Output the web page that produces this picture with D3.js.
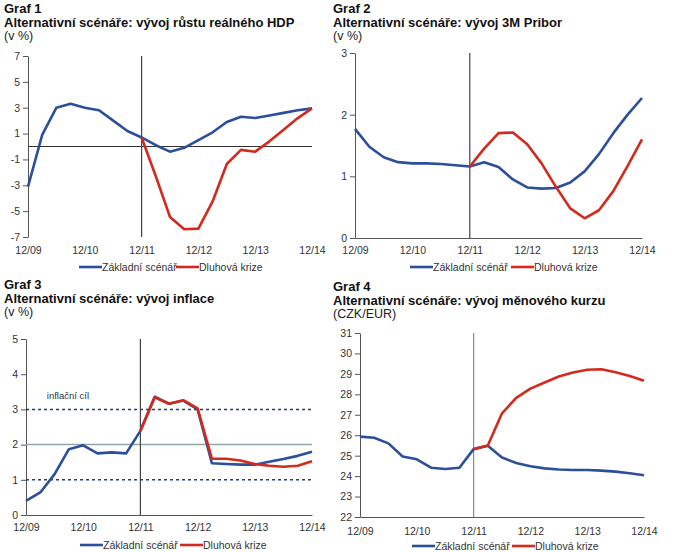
<!DOCTYPE html>
<html><head><meta charset="utf-8">
<script src="https://cdn.jsdelivr.net/npm/d3@7"></script>
<style>
body{margin:0;background:#fff;}
svg{display:block;font-family:"Liberation Sans",Arial,sans-serif;}
</style></head>
<body>
<svg id="c" width="688" height="552"></svg>
<script>
const quarters = d3.range(21);
const yearLabels = ["12/09","12/10","12/11","12/12","12/13","12/14"];
const seriesNames = ["Základní scénář","Dluhová krize"];

const gdpBase = [-3.1,0.9,3.0,3.3,3.0,2.8,2.0,1.2,0.7,0.1,-0.4,-0.1,0.5,1.1,1.9,2.3,2.2,2.4,2.6,2.8,2.95];
const gdpCrisis = [null,null,null,null,null,null,null,null,0.7,-2.3,-5.45,-6.4,-6.35,-4.25,-1.35,-0.26,-0.4,0.4,1.3,2.2,2.95];

const priborBase = [1.77,1.48,1.31,1.23,1.21,1.21,1.2,1.18,1.16,1.23,1.15,0.95,0.82,0.8,0.81,0.9,1.08,1.36,1.7,2.0,2.27];
const priborCrisis = [null,null,null,null,null,null,null,null,1.16,1.45,1.7,1.71,1.52,1.21,0.83,0.48,0.32,0.45,0.76,1.17,1.6];

const inflBase = [0.4,0.64,1.16,1.87,1.98,1.75,1.78,1.75,2.39,3.36,3.16,3.25,3.0,1.47,1.45,1.43,1.43,1.51,1.59,1.68,1.8];
const inflCrisis = [null,null,null,null,null,null,null,null,2.39,3.34,3.16,3.26,3.03,1.6,1.6,1.55,1.45,1.4,1.37,1.4,1.53];

const fxBase = [25.93,25.88,25.6,24.96,24.82,24.41,24.35,24.41,25.32,25.49,24.91,24.64,24.48,24.38,24.32,24.3,24.3,24.27,24.22,24.14,24.04];
const fxCrisis = [null,null,null,null,null,null,null,null,25.32,25.5,27.07,27.83,28.28,28.58,28.87,29.07,29.2,29.23,29.08,28.9,28.66];

const ticks1 = [-7,-5,-3,-1,1,3,5,7];
const ticks2 = [0,1,2,3];
const ticks3 = [0,1,2,3,4,5];
const ticks4 = [22,23,24,25,26,27,28,29,30,31];

const BLUE = "#2c4f9c", RED = "#d42a1e";
const svg = d3.select("#c");

const panels = [
  {num:"Graf 1", title:"Alternativní scénáře: vývoj růstu reálného HDP", unit:"(v %)",
   tx:4, ty:13, x:[28,312], y:[237,56], dom:[-7,7], ticks:ticks1, base:gdpBase, crisis:gdpCrisis,
   labY:255, legY:267, leg:[79,176], zero:0, vcol:"#444", bottomLine:false},
  {num:"Graf 2", title:"Alternativní scénáře: vývoj 3M Pribor", unit:"(v %)",
   tx:333, ty:13, x:[355,642], y:[238,53], dom:[0,3], ticks:ticks2, base:priborBase, crisis:priborCrisis,
   labY:255, legY:267, leg:[410,511], vcol:"#444", bottomLine:true},
  {num:"Graf 3", title:"Alternativní scénáře: vývoj inflace", unit:"(v %)",
   tx:4, ty:289, x:[26,312], y:[515,339], dom:[0,5], ticks:ticks3, base:inflBase, crisis:inflCrisis,
   labY:532, legY:545, leg:[80,180], vcol:"#444", bottomLine:true, target:true},
  {num:"Graf 4", title:"Alternativní scénáře: vývoj měnového kurzu", unit:"(CZK/EUR)",
   tx:333, ty:291, x:[360,644], y:[517,333], dom:[22,31], ticks:ticks4, base:fxBase, crisis:fxCrisis,
   labY:536, legY:546, leg:[412,512], vcol:"#888", bottomLine:true}
];

const fmt = d => (d < 0 ? "-" : "") + Math.abs(d);

panels.forEach(p => {
  const g = svg.append("g");
  g.append("text").attr("x",p.tx).attr("y",p.ty).attr("font-size",13).attr("font-weight","bold").attr("fill","#111").text(p.num);
  g.append("text").attr("x",p.tx).attr("y",p.ty+14).attr("font-size",13).attr("font-weight","bold").attr("fill","#111").text(p.title);
  g.append("text").attr("x",p.tx).attr("y",p.ty+27).attr("font-size",12.5).attr("fill","#222").text(p.unit);

  const xs = d3.scaleLinear().domain([0,20]).range(p.x);
  const ys = d3.scaleLinear().domain(p.dom).range(p.y);

  // y axis
  const ya = g.append("g").attr("transform",`translate(${p.x[0]},0)`)
    .call(d3.axisLeft(ys).tickValues(p.ticks).tickFormat(fmt).tickSize(5).tickSizeOuter(0).tickPadding(3));
  ya.select(".domain").attr("stroke","#555");
  ya.selectAll(".tick line").attr("stroke","#555");
  ya.selectAll("text").attr("font-size",10.5).attr("fill","#333").attr("font-family","Liberation Sans, Arial, sans-serif");

  // x axis labels
  const xa = g.append("g").attr("transform",`translate(0,${p.y[0]})`)
    .call(d3.axisBottom(xs).tickValues([0,4,8,12,16,20]).tickFormat((d,i)=>yearLabels[i]).tickSize(0).tickSizeOuter(0).tickPadding(p.labY-p.y[0]-8));
  xa.select(".domain").attr("stroke", p.bottomLine ? "#555" : "none");
  xa.selectAll("text").attr("font-size",10.5).attr("fill","#333").attr("font-family","Liberation Sans, Arial, sans-serif");

  if (p.zero !== undefined) {
    g.append("line").attr("x1",xs(0)).attr("x2",xs(20)).attr("y1",ys(p.zero)).attr("y2",ys(p.zero)).attr("stroke","#333").attr("stroke-width",1);
  }
  if (p.target) {
    g.append("line").attr("x1",xs(0)).attr("x2",xs(20)).attr("y1",ys(2)).attr("y2",ys(2)).attr("stroke","#8fa8a8").attr("stroke-width",1.5);
    [1,3].forEach(v => g.append("line").attr("x1",xs(0)).attr("x2",xs(20)).attr("y1",ys(v)).attr("y2",ys(v))
      .attr("stroke","#1d3f6e").attr("stroke-width",1.5).attr("stroke-dasharray","3,3"));
    g.append("text").attr("x",xs(3)-1).attr("y",ys(3)-10).attr("text-anchor","middle").attr("font-size",9.5).attr("fill","#333").text("inflační cíl");
  }
  // vertical line at 12/11
  g.append("line").attr("x1",xs(8)).attr("x2",xs(8)).attr("y1",p.y[1]).attr("y2",p.y[0]).attr("stroke",p.vcol).attr("stroke-width",1.2);

  const line = d3.line().defined(d=>d!=null).x((d,i)=>xs(i)).y(d=>ys(d));
  g.append("path").datum(p.base).attr("d",line).attr("fill","none").attr("stroke",BLUE).attr("stroke-width",2.6).attr("stroke-linejoin","round");
  g.append("path").datum(p.crisis).attr("d",line).attr("fill","none").attr("stroke",RED).attr("stroke-width",2.6).attr("stroke-linejoin","round");

  // legend
  [BLUE,RED].forEach((c,i) => {
    const lx = p.leg[i];
    g.append("line").attr("x1",lx).attr("x2",lx+23).attr("y1",p.legY).attr("y2",p.legY).attr("stroke",c).attr("stroke-width",2.6);
    g.append("text").attr("x",lx+23).attr("y",p.legY+4).attr("font-size",10.5).attr("fill","#333").text(seriesNames[i]);
  });
});
</script>
</body></html>
